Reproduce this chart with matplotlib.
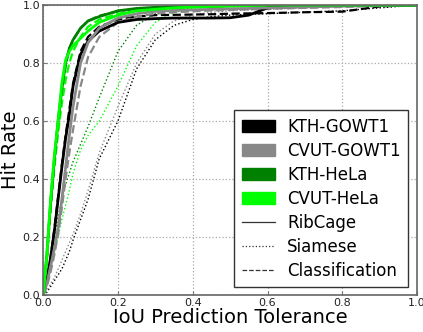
import matplotlib
matplotlib.use('Agg')
from matplotlib import pyplot as plt
from matplotlib.patches import Patch
from matplotlib.lines import Line2D

# tolerance grid shared by all curves
x = [0, 0.01, 0.02, 0.03, 0.04, 0.05, 0.06, 0.07, 0.08, 0.1, 0.12, 0.15, 0.2,
     0.25, 0.3, 0.35, 0.4, 0.45, 0.5, 0.55, 0.6, 0.7, 0.8, 0.9, 1.0]

# KTH-GOWT1
kth_gowt1_rib = [0, 0.05, 0.13, 0.22, 0.33, 0.44, 0.54, 0.62, 0.72, 0.83, 0.875, 0.91, 0.94,
                 0.95, 0.953, 0.955, 0.955, 0.955, 0.956, 0.965, 0.99, 0.997, 0.998, 0.999, 1.0]
kth_gowt1_siam = [0, 0.01, 0.03, 0.05, 0.07, 0.09, 0.12, 0.15, 0.19, 0.26, 0.33, 0.47, 0.6,
                  0.78, 0.88, 0.93, 0.95, 0.96, 0.965, 0.968, 0.97, 0.975, 0.98, 0.99, 1.0]
kth_gowt1_cls = [0, 0.05, 0.13, 0.23, 0.34, 0.45, 0.55, 0.64, 0.73, 0.84, 0.89, 0.925, 0.95,
                 0.96, 0.965, 0.966, 0.967, 0.968, 0.97, 0.971, 0.972, 0.975, 0.977, 0.995, 1.0]
# CVUT-GOWT1
cvut_gowt1_rib = [0, 0.04, 0.1, 0.16, 0.23, 0.33, 0.44, 0.55, 0.65, 0.8, 0.87, 0.92, 0.955,
                  0.97, 0.978, 0.981, 0.983, 0.985, 0.987, 0.988, 0.99, 0.993, 0.996, 0.998, 1.0]
cvut_gowt1_siam = [0, 0.015, 0.04, 0.06, 0.09, 0.12, 0.15, 0.18, 0.21, 0.28, 0.36, 0.49, 0.65,
                   0.8, 0.9, 0.945, 0.965, 0.975, 0.98, 0.983, 0.985, 0.99, 0.995, 0.998, 1.0]
cvut_gowt1_cls = [0, 0.03, 0.08, 0.14, 0.21, 0.3, 0.4, 0.49, 0.57, 0.72, 0.82, 0.89, 0.94,
                  0.96, 0.97, 0.975, 0.978, 0.981, 0.983, 0.985, 0.987, 0.99, 0.993, 0.997, 1.0]
# KTH-HeLa
kth_hela_rib = [0, 0.14, 0.32, 0.47, 0.6, 0.71, 0.8, 0.85, 0.88, 0.92, 0.945, 0.96, 0.98,
                0.988, 0.992, 0.994, 0.995, 0.996, 0.998, 0.999, 1.0, 1.0, 1.0, 1.0, 1.0]
kth_hela_siam = [0, 0.06, 0.13, 0.2, 0.27, 0.33, 0.38, 0.42, 0.46, 0.52, 0.58, 0.68, 0.84,
                 0.93, 0.97, 0.985, 0.99, 0.993, 0.995, 0.997, 0.998, 0.999, 1.0, 1.0, 1.0]
kth_hela_cls = [0, 0.13, 0.3, 0.45, 0.58, 0.7, 0.79, 0.85, 0.88, 0.92, 0.945, 0.963, 0.978,
                0.987, 0.99, 0.992, 0.994, 0.995, 0.997, 0.998, 0.999, 1.0, 1.0, 1.0, 1.0]
# CVUT-HeLa
cvut_hela_rib = [0, 0.14, 0.33, 0.48, 0.6, 0.73, 0.81, 0.84, 0.86, 0.885, 0.91, 0.94, 0.965,
                 0.98, 0.985, 0.99, 0.993, 0.995, 0.997, 0.998, 1.0, 1.0, 1.0, 1.0, 1.0]
cvut_hela_siam = [0, 0.05, 0.1, 0.15, 0.2, 0.26, 0.31, 0.36, 0.42, 0.5, 0.55, 0.6, 0.72,
                  0.86, 0.94, 0.975, 0.985, 0.988, 0.99, 0.993, 0.995, 0.997, 0.998, 0.999, 1.0]
cvut_hela_cls = [0, 0.12, 0.3, 0.44, 0.56, 0.66, 0.74, 0.8, 0.84, 0.89, 0.925, 0.95, 0.97,
                 0.98, 0.988, 0.99, 0.993, 0.995, 0.996, 0.997, 0.998, 0.999, 1.0, 1.0, 1.0]

datasets = ['KTH-GOWT1', 'CVUT-GOWT1', 'KTH-HeLa', 'CVUT-HeLa']
colors = ['#000000', '#888888', '#008000', '#00ff00']
methods = ['RibCage', 'Siamese', 'Classification']
styles = ['-', ':', '--']
widths = [2.0, 1.0, 1.6]
curves = [[kth_gowt1_rib, kth_gowt1_siam, kth_gowt1_cls],
          [cvut_gowt1_rib, cvut_gowt1_siam, cvut_gowt1_cls],
          [kth_hela_rib, kth_hela_siam, kth_hela_cls],
          [cvut_hela_rib, cvut_hela_siam, cvut_hela_cls]]

fig = plt.figure(figsize=(4.23, 3.32), dpi=100)
ax = fig.add_axes([0.102, 0.111, 0.884, 0.874])

# dotted first, solid on top
for m in [1, 2, 0]:
    for d in range(4):
        ax.plot(x, curves[d][m], linestyle=styles[m], color=colors[d], linewidth=widths[m])

ax.set_xlim(0, 1)
ax.set_ylim(0, 1)
ax.set_xticks([0, 0.2, 0.4, 0.6, 0.8, 1.0])
ax.set_yticks([0, 0.2, 0.4, 0.6, 0.8, 1.0])
ax.tick_params(labelsize=8, direction='in', length=3, width=0.8, pad=2,
               color='#777777', labelcolor='#222222')
ax.grid(True, linestyle=':', color='#aaaaaa', linewidth=0.9)
for s in ax.spines.values():
    s.set_color('#666666')
    s.set_linewidth(1.2)
ax.set_xlabel('IoU Prediction Tolerance', fontsize=14, labelpad=0)
ax.set_ylabel('Hit Rate', fontsize=14, labelpad=2)

handles = [Patch(facecolor=c, edgecolor=c) for c in colors]
handles += [Line2D([0], [0], color='#333333', linestyle=s, linewidth=0.9) for s in styles]
leg = ax.legend(handles, datasets + methods, loc='lower right', fontsize=12,
                fancybox=False, framealpha=1, edgecolor='#333333',
                handlelength=2.0, handleheight=0.7, borderpad=0.45, borderaxespad=0,
                labelspacing=0.36, handletextpad=0.7, bbox_to_anchor=(0.976, 0.028))
leg.get_frame().set_linewidth(1.0)

fig.savefig('out.png', dpi=100)
